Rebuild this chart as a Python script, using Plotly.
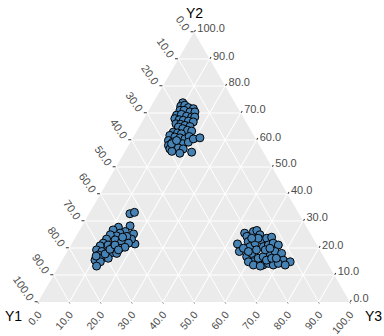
import plotly.graph_objects as go

# Compositions (percent) of the three groups: Y1, Y2, Y3
y1_top = [16.7, 18.0, 16.5, 15.8, 14.4, 19.0, 17.7, 16.1, 14.5, 21.0, 19.3, 18.0, 16.5, 15.5,
          22.2, 21.0, 19.8, 18.3, 16.9, 22.8, 21.4, 20.2, 18.8, 22.6, 21.5, 20.3, 19.1, 25.2,
          24.0, 22.9, 26.9, 25.6, 24.1, 22.7, 20.9, 28.3, 27.2, 25.9, 24.3, 22.2, 20.0, 29.2,
          28.0, 26.5, 25.1, 23.0, 29.4, 29.2, 27.0, 17.7, 27.9, 25.7]
y2_top = [73.8, 72.5, 72.9, 72.0, 71.6, 71.0, 71.0, 70.4, 70.4, 69.2, 69.5, 68.8, 68.5, 68.5,
          67.9, 67.5, 67.3, 67.0, 66.7, 66.0, 65.8, 65.4, 65.0, 64.8, 64.2, 63.6, 63.3, 62.9,
          62.6, 62.3, 61.7, 61.1, 60.8, 60.4, 61.3, 59.8, 59.2, 58.8, 58.6, 59.2, 60.4, 58.0,
          57.3, 57.1, 56.7, 55.5, 56.7, 55.8, 55.1, 60.8, 58.6, 59.8]
y3_top = [9.5, 9.5, 10.6, 12.2, 14.0, 10.0, 11.3, 13.5, 15.1, 9.8, 11.2, 13.2, 15.0, 16.0,
          9.9, 11.5, 12.9, 14.7, 16.4, 11.2, 12.8, 14.4, 16.2, 12.6, 14.3, 16.1, 17.6, 11.9,
          13.4, 14.8, 11.4, 13.3, 15.1, 16.9, 17.8, 11.9, 13.6, 15.3, 17.1, 18.6, 19.6, 12.8,
          14.7, 16.4, 18.2, 21.5, 13.9, 15.0, 17.9, 21.5, 13.5, 14.5]

y1_left = [54.2, 52.5, 60.4, 56.4, 59.0, 61.0, 62.6, 56.8, 58.2, 58.4, 59.4, 62.6, 64.4, 66.4,
           63.8, 62.0, 60.1, 68.2, 69.7, 67.0, 65.6, 63.8, 62.0, 71.6, 70.2, 69.0, 67.2, 65.8,
           72.0, 70.9, 69.4, 74.0, 72.6, 74.6, 69.6, 67.2, 64.8, 64.6, 60.9, 72.9]
y2_left = [32.7, 33.2, 27.7, 28.2, 26.1, 25.5, 26.7, 25.2, 21.5, 23.3, 24.3, 24.5, 24.9, 23.3,
           23.0, 22.4, 21.8, 21.8, 20.8, 21.1, 20.5, 19.9, 20.3, 19.3, 18.7, 18.0, 18.3, 18.0,
           17.4, 16.5, 16.2, 15.5, 14.9, 13.3, 17.8, 19.5, 21.1, 19.3, 24.0, 17.0]
y3_left = [13.1, 14.3, 11.9, 15.4, 14.9, 13.5, 10.7, 18.0, 20.3, 18.3, 16.3, 12.9, 10.7, 10.3,
           13.2, 15.6, 18.1, 10.0, 9.5, 11.9, 13.9, 16.3, 17.7, 9.1, 11.1, 13.0, 14.5, 16.2,
           10.6, 12.6, 14.4, 10.5, 12.5, 12.1, 12.6, 13.3, 14.1, 16.1, 15.1, 10.1]

y1_right = [25.3, 26.1, 21.0, 20.9, 21.4, 17.9, 16.6, 16.4, 21.8, 19.5, 16.8, 14.9, 13.1, 24.7,
            22.5, 20.3, 17.5, 15.6, 13.7, 12.4, 23.6, 21.3, 19.4, 16.6, 14.6, 12.9, 13.6, 11.7,
            21.0, 19.0, 17.7, 15.8, 13.9, 25.1, 24.1, 22.1, 19.0, 17.0, 15.5, 24.2, 23.2, 17.5,
            15.7, 17.6, 19.7]
y2_right = [21.5, 18.7, 25.5, 24.3, 22.4, 26.1, 26.5, 24.9, 20.5, 21.8, 23.0, 23.6, 24.0, 16.8,
            18.0, 19.3, 20.5, 21.1, 21.8, 21.1, 14.9, 16.2, 16.8, 18.0, 18.7, 18.0, 15.5, 14.9,
            13.7, 14.3, 13.7, 14.3, 13.7, 14.9, 13.7, 13.3, 15.5, 16.2, 16.2, 19.9, 18.7, 19.3,
            19.9, 23.6, 23.6]
y3_right = [53.2, 55.2, 53.5, 54.8, 56.2, 56.0, 56.9, 58.7, 57.7, 58.7, 60.2, 61.5, 62.9, 58.5,
            59.5, 60.4, 62.0, 63.3, 64.5, 66.5, 61.5, 62.5, 63.8, 65.4, 66.7, 69.1, 70.9, 73.4,
            65.3, 66.7, 68.6, 69.9, 72.4, 60.0, 62.2, 64.6, 65.5, 66.8, 68.3, 55.9, 58.1, 63.2,
            64.4, 58.8, 56.7]

y1 = y1_top + y1_left + y1_right
y2 = y2_top + y2_left + y2_right
y3 = y3_top + y3_left + y3_right

tick_values = [0, 10, 20, 30, 40, 50, 60, 70, 80, 90, 100]
# Each edge is labelled with the share of the vertex it runs toward
tick_labels = [f"{100 - v:.1f}" for v in tick_values]
vertex_names = ["Y1", "Y2", "Y3"]

fig = go.Figure(
    go.Scatterternary(
        a=y2, b=y1, c=y3,
        mode="markers",
        marker=dict(size=8, color="#4682B4", line=dict(color="black", width=1)),
        showlegend=False,
    )
)

font_family = "Liberation Sans, Arial, sans-serif"
title_font = dict(family=font_family, size=14, color="black")


def axis(angle, ticklen=3, fontsize=11):
    return dict(
        title=dict(text=""),
        min=0,
        tickmode="array",
        tickvals=tick_values,
        ticktext=tick_labels,
        tickangle=angle,
        tickfont=dict(family=font_family, size=fontsize, color="#4D4D4D"),
        ticks="outside",
        ticklen=ticklen,
        tickcolor="#333333",
        tickwidth=1,
        showline=False,
        showgrid=True,
        gridcolor="white",
        gridwidth=1.2,
    )


# Vertex names sit just outside the corners of the triangle
vertex_pos = {"Y1": (-0.08, -0.052), "Y2": (0.50, 1.07), "Y3": (1.075, -0.052)}
annotations = [
    dict(text=name, x=vertex_pos[name][0], y=vertex_pos[name][1], xref="paper", yref="paper",
         xanchor="center", yanchor="middle", showarrow=False, font=title_font)
    for name in vertex_names
]

fig.update_layout(
    width=384,
    height=336,
    margin=dict(l=38, r=34, t=32, b=34),
    paper_bgcolor="white",
    ternary=dict(
        sum=100,
        bgcolor="#EBEBEB",
        aaxis=axis(55),
        baxis=axis(-48, ticklen=1, fontsize=10.5),
        caxis=axis(0, ticklen=2),
    ),
    annotations=annotations,
)

fig.write_html("out.html")
